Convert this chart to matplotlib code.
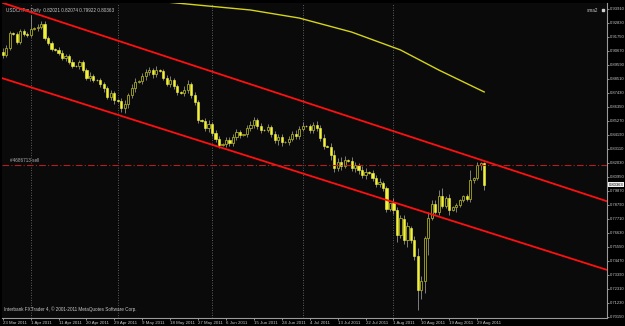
import matplotlib
matplotlib.use("Agg")
import matplotlib.pyplot as plt
import pandas as pd

plt.rcParams["font.family"] = ["Liberation Sans", "DejaVu Sans"]

# USDCHFm daily bars, 23 Mar 2011 .. 31 Aug 2011 (broker shows Sunday bars too)
dates = pd.bdate_range("2011-03-23", "2011-08-31", freq="C",
                       weekmask="Sun Mon Tue Wed Thu Fri")

opens = [0.9058, 0.9035, 0.9089, 0.9205, 0.9197, 0.9135, 0.9220, 0.9197, 0.9189, 0.9235,
         0.9243, 0.9251, 0.9274, 0.9166, 0.9127, 0.9081, 0.9074, 0.9050, 0.9012, 0.9027,
         0.8981, 0.8950, 0.8950, 0.8981, 0.8919, 0.8858, 0.8873, 0.8842, 0.8840, 0.8811,
         0.8781, 0.8711, 0.8742, 0.8688, 0.8680, 0.8626, 0.8657, 0.8727, 0.8781, 0.8827,
         0.8834, 0.8873, 0.8904, 0.8919, 0.8888, 0.8919, 0.8912, 0.8858, 0.8811, 0.8842,
         0.8796, 0.8750, 0.8742, 0.8765, 0.8811, 0.8727, 0.8673, 0.8534, 0.8526, 0.8472,
         0.8503, 0.8434, 0.8387, 0.8341, 0.8349, 0.8380, 0.8357, 0.8403, 0.8441, 0.8418,
         0.8426, 0.8472, 0.8495, 0.8534, 0.8488, 0.8457, 0.8454, 0.8480, 0.8426, 0.8380,
         0.8403, 0.8364, 0.8367, 0.8387, 0.8426, 0.8411, 0.8464, 0.8488, 0.8485, 0.8457,
         0.8495, 0.8472, 0.8395, 0.8333, 0.8328, 0.8264, 0.8164, 0.8210, 0.8179, 0.8225,
         0.8218, 0.8164, 0.8187, 0.8148, 0.8110, 0.8133, 0.8125, 0.8087, 0.8040, 0.8048,
         0.8010, 0.7848, 0.7894, 0.7840, 0.7647, 0.7771, 0.7609, 0.7701, 0.7609, 0.7485,
         0.7223, 0.7292, 0.7624, 0.7778, 0.7886, 0.7824, 0.7948, 0.7871, 0.7932, 0.7840,
         0.7863, 0.7878, 0.7917, 0.7948, 0.7925, 0.8071, 0.8087, 0.8187, 0.82021]
highs = [0.9089, 0.9112, 0.9220, 0.9212, 0.9212, 0.9235, 0.9235, 0.9212, 0.9343, 0.9251,
         0.9274, 0.9297, 0.9297, 0.9181, 0.9143, 0.9089, 0.9097, 0.9074, 0.9043, 0.9043,
         0.9004, 0.8958, 0.8996, 0.8996, 0.8935, 0.8904, 0.8888, 0.8850, 0.8858, 0.8827,
         0.8796, 0.8765, 0.8757, 0.8696, 0.8703, 0.8688, 0.8742, 0.8811, 0.8858, 0.8842,
         0.8896, 0.8927, 0.8942, 0.8935, 0.8950, 0.8927, 0.8927, 0.8881, 0.8873, 0.8858,
         0.8811, 0.8757, 0.8796, 0.8842, 0.8827, 0.8750, 0.8688, 0.8542, 0.8549, 0.8534,
         0.8518, 0.8457, 0.8411, 0.8357, 0.8403, 0.8403, 0.8426, 0.8464, 0.8457, 0.8426,
         0.8495, 0.8526, 0.8557, 0.8549, 0.8511, 0.8464, 0.8503, 0.8495, 0.8449, 0.8426,
         0.8426, 0.8372, 0.8411, 0.8449, 0.8457, 0.8488, 0.8518, 0.8495, 0.8503, 0.8518,
         0.8526, 0.8495, 0.8426, 0.8341, 0.8357, 0.8302, 0.8241, 0.8249, 0.8256, 0.8233,
         0.8249, 0.8210, 0.8202, 0.8179, 0.8164, 0.8141, 0.8148, 0.8110, 0.8087, 0.8064,
         0.8025, 0.7878, 0.7932, 0.7863, 0.7801, 0.7801, 0.7747, 0.7717, 0.7639, 0.7547,
         0.7331, 0.7639, 0.7824, 0.7917, 0.7917, 0.7994, 0.8010, 0.7948, 0.7963, 0.7871,
         0.7894, 0.7925, 0.7956, 0.7963, 0.8148, 0.8094, 0.8210, 0.8210, 0.82074]
lows = [0.9012, 0.9020, 0.9074, 0.9189, 0.9120, 0.9120, 0.9181, 0.9174, 0.9174, 0.9228,
        0.9220, 0.9235, 0.9151, 0.9112, 0.9066, 0.9066, 0.9035, 0.8996, 0.8989, 0.8966,
        0.8935, 0.8942, 0.8927, 0.8904, 0.8842, 0.8834, 0.8827, 0.8834, 0.8788, 0.8750,
        0.8696, 0.8688, 0.8657, 0.8673, 0.8596, 0.8588, 0.8626, 0.8703, 0.8750, 0.8819,
        0.8811, 0.8842, 0.8881, 0.8858, 0.8865, 0.8904, 0.8842, 0.8796, 0.8788, 0.8773,
        0.8727, 0.8734, 0.8719, 0.8742, 0.8703, 0.8649, 0.8511, 0.8518, 0.8449, 0.8441,
        0.8411, 0.8364, 0.8318, 0.8333, 0.8326, 0.8333, 0.8333, 0.8380, 0.8395, 0.8411,
        0.8403, 0.8449, 0.8472, 0.8464, 0.8434, 0.8449, 0.8441, 0.8403, 0.8357, 0.8341,
        0.8333, 0.8357, 0.8341, 0.8372, 0.8387, 0.8387, 0.8449, 0.8480, 0.8434, 0.8434,
        0.8449, 0.8372, 0.8310, 0.8326, 0.8225, 0.8133, 0.8141, 0.8148, 0.8164, 0.8210,
        0.8141, 0.8133, 0.8118, 0.8087, 0.8079, 0.8118, 0.8064, 0.8017, 0.8017, 0.7986,
        0.7824, 0.7832, 0.7809, 0.7593, 0.7624, 0.7578, 0.7555, 0.7585, 0.7454, 0.7069,
        0.7154, 0.7200, 0.7493, 0.7763, 0.7809, 0.7801, 0.7855, 0.7855, 0.7801, 0.7832,
        0.7824, 0.7863, 0.7902, 0.7909, 0.7902, 0.8048, 0.8071, 0.8148, 0.79922]
closes = [0.9035, 0.9089, 0.9205, 0.9197, 0.9135, 0.9220, 0.9197, 0.9189, 0.9235, 0.9243,
          0.9251, 0.9274, 0.9166, 0.9127, 0.9081, 0.9074, 0.9050, 0.9012, 0.9027, 0.8981,
          0.8950, 0.8947, 0.8981, 0.8919, 0.8858, 0.8873, 0.8842, 0.8840, 0.8811, 0.8781,
          0.8711, 0.8742, 0.8688, 0.8680, 0.8626, 0.8657, 0.8727, 0.8781, 0.8827, 0.8834,
          0.8873, 0.8904, 0.8919, 0.8888, 0.8919, 0.8912, 0.8858, 0.8811, 0.8842, 0.8796,
          0.8750, 0.8742, 0.8765, 0.8811, 0.8727, 0.8673, 0.8534, 0.8526, 0.8472, 0.8503,
          0.8434, 0.8387, 0.8341, 0.8349, 0.8380, 0.8357, 0.8403, 0.8441, 0.8418, 0.8426,
          0.8472, 0.8495, 0.8534, 0.8488, 0.8457, 0.8454, 0.8480, 0.8426, 0.8380, 0.8403,
          0.8364, 0.8367, 0.8387, 0.8426, 0.8411, 0.8464, 0.8488, 0.8485, 0.8457, 0.8495,
          0.8472, 0.8395, 0.8333, 0.8328, 0.8264, 0.8164, 0.8210, 0.8179, 0.8225, 0.8218,
          0.8164, 0.8187, 0.8148, 0.8110, 0.8133, 0.8125, 0.8087, 0.8040, 0.8056, 0.8010,
          0.7848, 0.7894, 0.7840, 0.7647, 0.7778, 0.7609, 0.7717, 0.7609, 0.7485, 0.7223,
          0.7292, 0.7624, 0.7778, 0.7886, 0.7824, 0.7948, 0.7871, 0.7932, 0.7840, 0.7863,
          0.7878, 0.7917, 0.7948, 0.7925, 0.8071, 0.8087, 0.8187, 0.8202, 0.80363]

ma_bars = [44, 56, 71, 85, 100, 114, 125, 138]
ma_vals = [0.9451, 0.9420, 0.9382, 0.9320, 0.9212, 0.9074, 0.8919, 0.8750]

# trend channel anchors (bar index, price)
upper_line = [(0, 0.9437), (138, 0.8218)]
lower_line = [(0, 0.8855), (138, 0.7678)]

order_price = 0.8188
order_label = "#4686713 sell"

price_ticks = [0.70150, 0.71230, 0.72310, 0.73390, 0.74470, 0.75550, 0.76630, 0.77710,
               0.78790, 0.79870, 0.80950, 0.82030, 0.83110, 0.84190, 0.85270, 0.86350,
               0.87430, 0.88510, 0.89590, 0.90670, 0.91750, 0.92830, 0.93910]

BG = "#0a0a0a"
TXT = "#c8c8c8"
BEAR = "#f2f23c"
BULL = "#a8a820"
WICK = "#909090"

fig = plt.figure(figsize=(6.25, 3.26), dpi=100, facecolor="#000000")
ax = fig.add_axes([2 / 625, 8 / 326, 605 / 625, 315 / 326])
ax.set_facecolor(BG)

n = len(closes)
idx = list(range(n))

# month separators (dotted)
for i in range(1, n):
    if dates[i].month != dates[i - 1].month:
        ax.axvline(i, color="#7a7a7a", lw=0.6, ls=(0, (1, 2)), zorder=1)

# candles
ax.vlines(idx, lows, highs, color=WICK, lw=0.6, zorder=2)
for i in idx:
    o, c = opens[i], closes[i]
    lo, hi = min(o, c), max(o, c)
    h = max(hi - lo, 0.00015)
    if c >= o:
        ax.bar(i, h, bottom=lo, width=0.62, facecolor=BG, edgecolor=BULL, lw=0.6, zorder=3)
    else:
        ax.bar(i, h, bottom=lo, width=0.62, facecolor=BEAR, edgecolor=BEAR, lw=0.4, zorder=3)

# channel
ax.axline(upper_line[0], upper_line[1], color="#ff1010", lw=1.3, zorder=4)
ax.axline(lower_line[0], lower_line[1], color="#ff1010", lw=1.3, zorder=4)

# moving average
ax.plot(ma_bars, ma_vals, color="#d4d41c", lw=1.0, zorder=4)

# pending order line
ax.axhline(order_price, color="#b02020", lw=0.8, ls=(0, (6, 2, 1, 2)), zorder=4)
ax.text(2, order_price + 0.0012, order_label, color="#b0b0b0", fontsize=3.3,
        va="bottom", ha="left", zorder=5)

ax.set_xlim(-0.2, 173.2)
ax.set_ylim(0.7007, 0.9436)

# axes look
for side in ["top", "left"]:
    ax.spines[side].set_visible(False)
for side in ["right", "bottom"]:
    ax.spines[side].set_color("#9a9a9a")
    ax.spines[side].set_linewidth(0.8)

xt = list(range(0, n, 8))
ax.set_xticks(xt)
ax.set_xticklabels([f"{dates[i].day} {dates[i].strftime('%b %Y')}" for i in xt])
for lbl in ax.get_xticklabels():
    lbl.set_ha("left")
ax.tick_params(axis="x", length=1.5, width=0.5, pad=0.5, labelsize=3.2, colors=TXT)

ax.yaxis.tick_right()
ax.set_yticks(price_ticks)
ax.set_yticklabels([f"{p:.5f}" for p in price_ticks])
ax.tick_params(axis="y", length=1.5, width=0.5, pad=0.8, labelsize=3.0, colors=TXT)

# current price box
ax.annotate(f"{closes[-1]:.5f}", xy=(1.0, closes[-1]), xycoords=("axes fraction", "data"),
            xytext=(1.0, 0), textcoords="offset points", fontsize=3.0, color="#000000",
            va="center", ha="left",
            bbox=dict(boxstyle="square,pad=0.12", fc="#f0f0f0", ec="none"))

# header / footer texts
ax.text(0.006, 0.985,
        f"USDCHFm,Daily  {opens[-1]:.5f} {highs[-1]:.5f} {lows[-1]:.5f} {closes[-1]:.5f}",
        transform=ax.transAxes, color=TXT, fontsize=3.3, va="top", ha="left")
ax.text(0.004, 0.018, "Interbank FXTrader 4, \u00a9 2001-2011 MetaQuotes Software Corp.",
        transform=ax.transAxes, color=TXT, fontsize=3.3, va="bottom", ha="left")
ax.text(0.985, 0.985, "sma2", transform=ax.transAxes, color=TXT, fontsize=3.3,
        va="top", ha="right")
ax.plot([0.993], [0.978], marker="s", ms=2, color="#d0d0d0", transform=ax.transAxes)

fig.savefig("out.png", dpi=100, facecolor=fig.get_facecolor())
